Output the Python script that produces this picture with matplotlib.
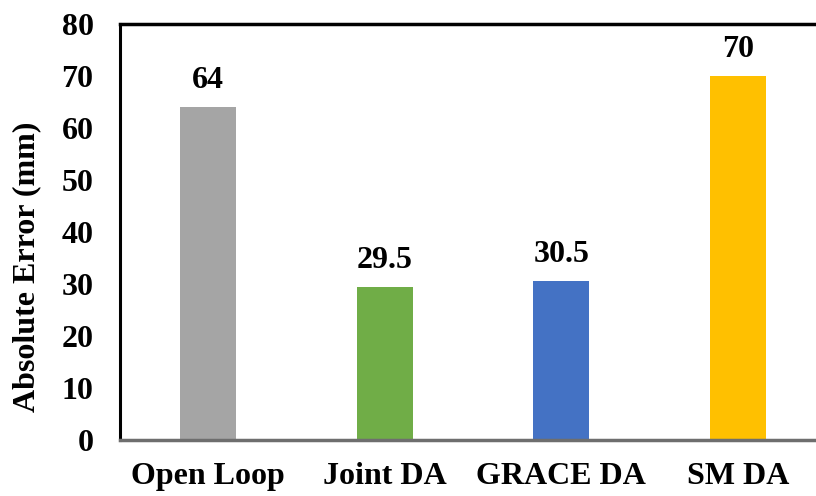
import matplotlib
matplotlib.use("Agg")
import matplotlib.pyplot as plt

categories = ["Open Loop", "Joint DA", "GRACE DA", "SM DA"]
errors = [64, 29.5, 30.5, 70]
value_labels = ["64", "29.5", "30.5", "70"]
colors = ["#A5A5A5", "#70AD47", "#4472C4", "#FFC000"]
yticks = [0, 10, 20, 30, 40, 50, 60, 70, 80]

plt.rcParams["font.family"] = ["Liberation Serif", "DejaVu Serif"]
plt.rcParams["font.weight"] = "bold"

FS = 23
W, H = 816, 496
fig = plt.figure(figsize=(W / 100, H / 100), dpi=100)
left, right, top, bottom = 120, 826, 24, 440
ax = fig.add_axes([left / W, 1 - bottom / H, (right - left) / W, (bottom - top) / H])

x = range(len(categories))
bars = ax.bar(x, errors, width=0.317, color=colors, zorder=2)

for b, lab in zip(bars, value_labels):
    ax.annotate(lab, (b.get_x() + b.get_width() / 2, b.get_height()),
                xytext=(0, 13.7), textcoords="offset points",
                ha="center", va="baseline", fontsize=FS, fontweight="bold")

ax.set_xlim(-0.5, 3.5)
ax.set_ylim(0, 80)
ax.set_yticks(yticks)
ax.set_xticks(list(x))
ax.set_xticklabels(categories, fontsize=FS, fontweight="bold")
ax.tick_params(axis="y", length=0, pad=19, labelsize=FS)
ax.tick_params(axis="x", length=0, pad=16)
for t in ax.get_yticklabels():
    t.set_fontweight("bold")

fig.text(27 / W, 1 - 267 / H, "Absolute Error (mm)", rotation=90,
         ha="center", va="center", fontsize=FS, fontweight="bold")

ax.spines["right"].set_visible(False)
ax.spines["top"].set_linewidth(2.5)
ax.spines["top"].set_color("black")
ax.spines["left"].set_linewidth(2.2)
ax.spines["left"].set_color("black")
ax.spines["bottom"].set_linewidth(2.5)
ax.spines["bottom"].set_color("#6e6e6e")
ax.spines["bottom"].set_zorder(3)

fig.savefig("out.png", dpi=100)
